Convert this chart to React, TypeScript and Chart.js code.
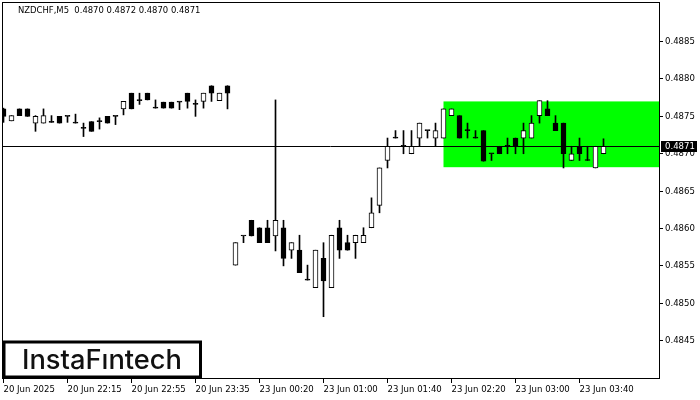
import { useEffect, useRef } from "react";
import { Chart, registerables } from "chart.js";

Chart.register(...registerables);

const symbol = "NZDCHF";
const timeframe = "M5";

const categories = [
  "20 Jun 21:35", "20 Jun 21:40", "20 Jun 21:45", "20 Jun 21:50", "20 Jun 21:55", "20 Jun 22:00", "20 Jun 22:05", "20 Jun 22:10",
  "20 Jun 22:15", "20 Jun 22:20", "20 Jun 22:25", "20 Jun 22:30", "20 Jun 22:35", "20 Jun 22:40", "20 Jun 22:45", "20 Jun 22:50",
  "20 Jun 22:55", "20 Jun 23:00", "20 Jun 23:05", "20 Jun 23:10", "20 Jun 23:15", "20 Jun 23:20", "20 Jun 23:25", "20 Jun 23:30",
  "20 Jun 23:35", "20 Jun 23:40", "20 Jun 23:45", "20 Jun 23:50", "20 Jun 23:55", "23 Jun 00:05", "23 Jun 00:10", "23 Jun 00:15",
  "23 Jun 00:20", "23 Jun 00:25", "23 Jun 00:30", "23 Jun 00:35", "23 Jun 00:40", "23 Jun 00:45", "23 Jun 00:50", "23 Jun 00:55",
  "23 Jun 01:00", "23 Jun 01:05", "23 Jun 01:10", "23 Jun 01:15", "23 Jun 01:20", "23 Jun 01:25", "23 Jun 01:30", "23 Jun 01:35",
  "23 Jun 01:40", "23 Jun 01:45", "23 Jun 01:50", "23 Jun 01:55", "23 Jun 02:00", "23 Jun 02:05", "23 Jun 02:10", "23 Jun 02:15",
  "23 Jun 02:20", "23 Jun 02:25", "23 Jun 02:30", "23 Jun 02:35", "23 Jun 02:40", "23 Jun 02:45", "23 Jun 02:50", "23 Jun 02:55",
  "23 Jun 03:00", "23 Jun 03:05", "23 Jun 03:10", "23 Jun 03:15", "23 Jun 03:20", "23 Jun 03:25", "23 Jun 03:30", "23 Jun 03:35",
  "23 Jun 03:40", "23 Jun 03:45", "23 Jun 03:50", "23 Jun 03:55",
];

const opens = [
  0.48760, 0.48744, 0.48760, 0.48760, 0.48741, 0.48741, 0.48742, 0.48750, 0.48750, 0.48741,
  0.48734, 0.48743, 0.48743, 0.48750, 0.48750, 0.48760, 0.48781, 0.48771, 0.48781, 0.48761,
  0.48769, 0.48769, 0.48769, 0.48781, 0.48766, 0.48770, 0.48791, 0.48771, 0.48791,
  0.48551, 0.48590, 0.48611, 0.48601, 0.48601, 0.48590, 0.48601, 0.48571, 0.48571, 0.48531,
  0.48521, 0.48560, 0.48521, 0.48601, 0.48581, 0.48581, 0.48581, 0.48601, 0.48631, 0.48691,
  0.48721, 0.48710, 0.48700, 0.48721, 0.48731, 0.48721, 0.48721, 0.48751, 0.48751, 0.48731,
  0.48721, 0.48731, 0.48700, 0.48710, 0.48710, 0.48721, 0.48721, 0.48721, 0.48751, 0.48760,
  0.48741, 0.48741, 0.48691, 0.48710, 0.48691, 0.48681, 0.48700,
];
const highs = [
  0.48761, 0.48751, 0.48760, 0.48760, 0.48751, 0.48760, 0.48751, 0.48750, 0.48750, 0.48753,
  0.48741, 0.48743, 0.48748, 0.48750, 0.48750, 0.48770, 0.48781, 0.48781, 0.48781, 0.48772,
  0.48769, 0.48769, 0.48769, 0.48781, 0.48772, 0.48781, 0.48791, 0.48781, 0.48791,
  0.48581, 0.48590, 0.48611, 0.48601, 0.48611, 0.48772, 0.48611, 0.48581, 0.48591, 0.48551,
  0.48571, 0.48581, 0.48591, 0.48611, 0.48591, 0.48591, 0.48601, 0.48641, 0.48681, 0.48721,
  0.48731, 0.48731, 0.48731, 0.48741, 0.48731, 0.48741, 0.48760, 0.48760, 0.48751, 0.48741,
  0.48731, 0.48731, 0.48700, 0.48710, 0.48721, 0.48721, 0.48741, 0.48751, 0.48771, 0.48771,
  0.48751, 0.48741, 0.48710, 0.48721, 0.48710, 0.48710, 0.48720,
];
const lows = [
  0.48742, 0.48744, 0.48751, 0.48750, 0.48730, 0.48741, 0.48742, 0.48741, 0.48742, 0.48741,
  0.48723, 0.48730, 0.48733, 0.48741, 0.48739, 0.48752, 0.48760, 0.48766, 0.48772, 0.48761,
  0.48761, 0.48761, 0.48759, 0.48761, 0.48750, 0.48761, 0.48770, 0.48771, 0.48760,
  0.48551, 0.48581, 0.48590, 0.48581, 0.48581, 0.48570, 0.48550, 0.48560, 0.48541, 0.48531,
  0.48521, 0.48482, 0.48521, 0.48560, 0.48571, 0.48560, 0.48581, 0.48601, 0.48621, 0.48681,
  0.48721, 0.48700, 0.48700, 0.48710, 0.48721, 0.48710, 0.48721, 0.48751, 0.48721, 0.48721,
  0.48721, 0.48690, 0.48691, 0.48700, 0.48700, 0.48700, 0.48700, 0.48721, 0.48741, 0.48751,
  0.48731, 0.48681, 0.48691, 0.48691, 0.48691, 0.48681, 0.48700,
];
const closes = [
  0.48750, 0.48751, 0.48751, 0.48750, 0.48750, 0.48751, 0.48742, 0.48741, 0.48750, 0.48741,
  0.48734, 0.48730, 0.48743, 0.48741, 0.48750, 0.48770, 0.48760, 0.48771, 0.48772, 0.48761,
  0.48761, 0.48761, 0.48769, 0.48770, 0.48766, 0.48781, 0.48781, 0.48781, 0.48781,
  0.48581, 0.48590, 0.48590, 0.48581, 0.48581, 0.48611, 0.48560, 0.48581, 0.48541, 0.48531,
  0.48571, 0.48530, 0.48591, 0.48571, 0.48571, 0.48591, 0.48591, 0.48621, 0.48681, 0.48710,
  0.48721, 0.48710, 0.48710, 0.48741, 0.48731, 0.48731, 0.48760, 0.48760, 0.48721, 0.48731,
  0.48721, 0.48690, 0.48700, 0.48700, 0.48710, 0.48710, 0.48731, 0.48741, 0.48771, 0.48751,
  0.48731, 0.48700, 0.48700, 0.48700, 0.48691, 0.48710, 0.48710,
];

const xTickIndex = [0, 8, 16, 24, 32, 40, 48, 56, 64, 72];
const xTickLabels = [
  "20 Jun 2025", "20 Jun 22:15", "20 Jun 22:55", "20 Jun 23:35", "23 Jun 00:20",
  "23 Jun 01:00", "23 Jun 01:40", "23 Jun 02:20", "23 Jun 03:00", "23 Jun 03:40",
];
const yTicks = [0.4845, 0.485, 0.4855, 0.486, 0.4865, 0.487, 0.4875, 0.488, 0.4885];

const boxStartIndex = 55;
const boxTop = 0.4877;
const boxBottom = 0.48682;
const bidPrice = 0.4871;

const yMin = 0.484;
const yMax = 0.48903;
const xMin = -0.1875;
const xMax = 81.9375;

const AXIS_FONT = "'DejaVu Sans Condensed', 'DejaVu Sans', sans-serif";

const overlayPlugin = {
  id: "overlay",
  beforeDatasetsDraw(chart: any) {
    const { ctx, chartArea: a, scales } = chart;
    const x = scales.x;
    const y = scales.y;
    ctx.save();
    ctx.fillStyle = "#00ff00";
    const x0 = x.getPixelForValue(boxStartIndex);
    const yt = y.getPixelForValue(boxTop);
    const yb = y.getPixelForValue(boxBottom);
    ctx.fillRect(x0, yt, a.right - x0, yb - yt);
    const yp = Math.round(y.getPixelForValue(bidPrice)) + 0.5;
    ctx.strokeStyle = "#000";
    ctx.lineWidth = 1;
    ctx.beginPath();
    ctx.moveTo(a.left, yp);
    ctx.lineTo(a.right, yp);
    ctx.stroke();
    ctx.restore();
  },
  afterDraw(chart: any) {
    const { ctx, chartArea: a, scales } = chart;
    const y = scales.y;
    ctx.save();
    ctx.strokeStyle = "#000";
    ctx.lineWidth = 1;
    ctx.strokeRect(a.left + 0.5, a.top + 0.5, a.right - a.left, a.bottom - a.top);

    const yp = Math.round(y.getPixelForValue(bidPrice)) + 0.5;
    ctx.fillStyle = "#000";
    ctx.fillRect(a.right + 2, yp - 5.5, 36, 11);
    ctx.fillStyle = "#fff";
    ctx.font = `9.5px ${AXIS_FONT}`;
    ctx.textBaseline = "middle";
    ctx.textAlign = "left";
    ctx.fillText(bidPrice.toFixed(4), a.right + 6, yp + 0.5);

    const last = opens.length - 1;
    const header = `${symbol},${timeframe}  ${opens[last].toFixed(4)} ${highs[last].toFixed(4)} ${lows[last].toFixed(4)} ${closes[last].toFixed(4)}`;
    ctx.fillStyle = "#000";
    ctx.font = `9.4px ${AXIS_FONT}`;
    ctx.fillText(header, 18, 11);

    ctx.fillStyle = "#fff";
    ctx.fillRect(3, 341, 198, 37);
    ctx.strokeStyle = "#000";
    ctx.lineWidth = 3;
    ctx.strokeRect(4, 342, 196.5, 35);
    ctx.fillStyle = "#111";
    ctx.font = "500 27px Inter, 'Noto Sans', sans-serif";
    ctx.textBaseline = "alphabetic";
    const text = "InstaF\u0131ntech";
    const w = ctx.measureText(text).width;
    const target = 160;
    ctx.translate(22, 369);
    ctx.scale(target / w, 1);
    ctx.fillText(text, 0, 0);
    ctx.restore();
  },
};

export default function App() {
  const ref = useRef<HTMLCanvasElement>(null);

  useEffect(() => {
    if (!ref.current) return;
    const wickData = categories.map((_, i) => ({ x: i, y: [lows[i], highs[i]] }));
    const bodyData = categories.map((_, i) => ({ x: i, y: [opens[i], closes[i]] }));
    const bodyColors = categories.map((_, i) => (closes[i] > opens[i] ? "#ffffff" : "#000000"));

    const chart = new Chart(ref.current, {
      type: "bar",
      data: {
        datasets: [
          {
            label: "wick",
            data: wickData as any,
            backgroundColor: "#000",
            borderWidth: 0,
            barThickness: 1,
            grouped: false,
            minBarLength: 1,
            order: 2,
          } as any,
          {
            label: "body",
            data: bodyData as any,
            backgroundColor: bodyColors,
            borderColor: "#000",
            borderWidth: 1,
            borderSkipped: false,
            barThickness: 5,
            grouped: false,
            minBarLength: 1,
            order: 1,
          } as any,
        ],
      },
      options: {
        responsive: false,
        animation: false,
        events: [],
        layout: { padding: { left: 2, top: 2, right: 0, bottom: 0 } },
        plugins: { legend: { display: false }, tooltip: { enabled: false } },
        scales: {
          x: {
            type: "linear",
            position: "bottom",
            offset: false,
            min: xMin,
            max: xMax,
            afterBuildTicks: (s: any) => {
              s.ticks = xTickIndex.map((v) => ({ value: v }));
            },
            afterFit: (s: any) => {
              s.height = 22;
              s.paddingLeft = 0;
              s.paddingRight = 0;
            },
            grid: { display: true, offset: false, drawOnChartArea: false, drawTicks: true, tickLength: 5, color: "#000", lineWidth: 1 },
            border: { display: false },
            ticks: {
              align: "start",
              autoSkip: false,
              maxRotation: 0,
              minRotation: 0,
              padding: 1,
              color: "#000",
              font: { family: AXIS_FONT, size: 9.5 },
              callback: (_v: any, i: number) => xTickLabels[i] ?? "",
            },
          } as any,
          y: {
            type: "linear",
            position: "right",
            min: yMin,
            max: yMax,
            afterBuildTicks: (s: any) => {
              s.ticks = yTicks.map((v) => ({ value: v }));
            },
            afterFit: (s: any) => {
              s.width = 41;
              s.paddingTop = 0;
              s.paddingBottom = 0;
            },
            grid: { display: true, drawOnChartArea: false, drawTicks: true, tickLength: 4, color: "#000", lineWidth: 1 },
            border: { display: false },
            ticks: {
              padding: 2,
              color: "#000",
              font: { family: AXIS_FONT, size: 9.5 },
              callback: (v: any) => Number(v).toFixed(4),
            },
          } as any,
        },
      },
      plugins: [overlayPlugin],
    });
    return () => chart.destroy();
  }, []);

  return (
    <div style={{ position: "absolute", left: 0, top: 0, width: 700, height: 400, background: "#fff" }}>
      <canvas ref={ref} width={700} height={400} style={{ display: "block" }} />
    </div>
  );
}
